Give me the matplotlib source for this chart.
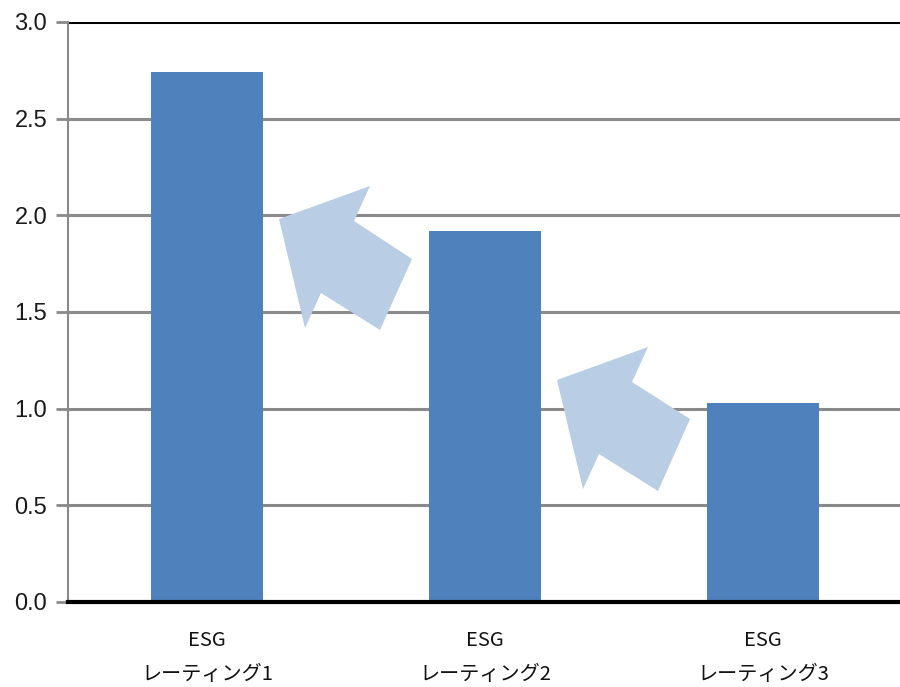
import matplotlib
matplotlib.use("Agg")
import matplotlib.pyplot as plt
from matplotlib.patches import Polygon
from matplotlib import font_manager

categories = ["ESG\nレーティング1", "ESG\nレーティング2", "ESG\nレーティング3"]
values = [2.74, 1.92, 1.03]
yticks = [0.0, 0.5, 1.0, 1.5, 2.0, 2.5, 3.0]

names = {f.name for f in font_manager.fontManager.ttflist}
num_font = "Liberation Sans Narrow" if "Liberation Sans Narrow" in names else "Liberation Sans"

plt.rcParams["font.family"] = ["Noto Sans CJK JP", "DejaVu Sans"]

fig = plt.figure(figsize=(9, 6.87), dpi=100)
ax = fig.add_axes([68 / 900, 85 / 687, 834 / 900, 580 / 687])

x = list(range(len(categories)))
ax.bar(x, values, width=0.405, color="#4F81BD", zorder=3)

ax.set_xlim(-0.5, 2.5)
ax.set_ylim(0, 3.0)
ax.set_yticks(yticks)
ax.set_yticklabels([f"{v:.1f}" for v in yticks], fontfamily=num_font, fontsize=17, color="#1a1a1a")
ax.set_xticks(x)
ax.set_xticklabels(categories, fontsize=14.5, linespacing=1.8, color="#111111")

for v in yticks[1:-1]:
    ax.axhline(v, color="#8A8A8A", lw=2.2, zorder=1)
ax.axhline(3.0, color="black", lw=2.2, zorder=2)

for s in ["top", "right"]:
    ax.spines[s].set_visible(False)
ax.spines["left"].set_color("#8A8A8A")
ax.spines["left"].set_linewidth(1.5)
ax.spines["bottom"].set_color("black")
ax.spines["bottom"].set_linewidth(3)
ax.spines["bottom"].set_zorder(4)
ax.tick_params(axis="y", length=9, width=2, color="#8A8A8A", pad=6)
ax.tick_params(axis="x", length=0, pad=20)

# decorative arrows (figure pixel coordinates, y from top)
def arrow(pts):
    fpts = [(px / 900, 1 - py / 687) for px, py in pts]
    fig.patches.append(Polygon(fpts, closed=True, transform=fig.transFigure,
                               facecolor="#B9CDE5", edgecolor="none", zorder=5))

arrow([(279, 219), (370, 186), (354, 221), (412, 259), (380, 330), (321, 293), (305, 328)])
arrow([(557, 380), (648, 347), (632, 382), (690, 419), (658, 491), (599, 454), (583, 489)])

fig.savefig("out.png", dpi=100)
